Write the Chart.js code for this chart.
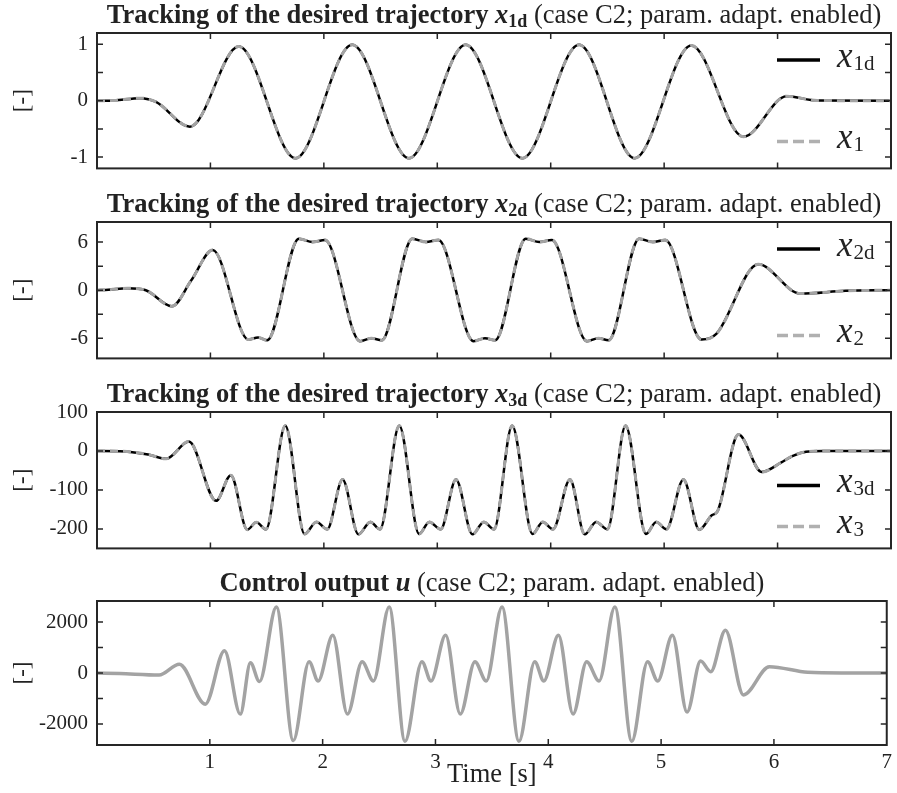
<!DOCTYPE html>
<html><head><meta charset="utf-8">
<script src="https://cdn.jsdelivr.net/npm/chart.js@4.4.1/dist/chart.umd.min.js"></script>
<style>
html,body{margin:0;padding:0;background:#fff;}
#wrap{position:relative;width:897px;height:793px;overflow:hidden;background:#fff;}
canvas{position:absolute;left:0;}
</style></head><body>
<div id="wrap">
<canvas id="c1" width="897" height="190" style="top:0px"></canvas>
<canvas id="c2" width="897" height="190" style="top:190px"></canvas>
<canvas id="c3" width="897" height="190" style="top:380px"></canvas>
<canvas id="c4" width="897" height="223" style="top:570px"></canvas>
</div>
<script>
// ---------- data ----------
const xTicks = [0, 1, 2, 3, 4, 5, 6, 7];
const xTickLabels = ['', '1', '2', '3', '4', '5', '6', '7'];

const t1  = [0, 0.15, 0.38, 0.52, 0.82, 1.25, 1.75, 2.25, 2.75, 3.25, 3.75, 4.25, 4.74, 5.24, 5.70, 6.08, 6.35, 7.0];
const x1d = [0, 0.005, 0.045, -0.02, -0.46, 0.96, -1.02, 0.99, -1.02, 0.99, -1.02, 0.99, -1.02, 0.98, -0.64, 0.08, 0.003, 0];
const x1  = [0, 0.005, 0.045, -0.02, -0.46, 0.96, -1.02, 0.99, -1.02, 0.99, -1.02, 0.99, -1.02, 0.98, -0.64, 0.08, 0.003, 0];

const t2  = [0, 0.1, 0.27, 0.43, 0.66, 0.83, 1.02, 1.335, 1.42, 1.50, 1.78, 1.90, 2.01, 2.32, 2.42, 2.51, 2.78, 2.90, 3.01, 3.32, 3.42, 3.51, 3.78, 3.90, 4.01, 4.32, 4.42, 4.51, 4.78, 4.90, 5.01, 5.33, 5.46, 5.83, 6.20, 6.60, 7.0];
const x2d = [0, 0.05, 0.24, 0.0, -2.0, 1.2, 5.0, -6.15, -5.88, -6.25, 6.42, 6.0, 6.25, -6.35, -5.98, -6.25, 6.42, 6.0, 6.25, -6.35, -5.98, -6.25, 6.42, 6.0, 6.25, -6.35, -5.98, -6.25, 6.42, 6.0, 6.25, -6.15, -5.45, 3.22, -0.42, -0.08, 0];
const x2  = [0, 0.05, 0.24, 0.0, -2.0, 1.2, 5.0, -6.15, -5.88, -6.25, 6.42, 6.0, 6.25, -6.35, -5.98, -6.25, 6.42, 6.0, 6.25, -6.35, -5.98, -6.25, 6.42, 6.0, 6.25, -6.35, -5.98, -6.25, 6.42, 6.0, 6.25, -6.15, -5.45, 3.22, -0.42, -0.08, 0];

const t3  = [0, 0.2, 0.45, 0.61, 0.81, 1.05, 1.18, 1.325, 1.405, 1.49, 1.66, 1.83, 1.935, 2.03, 2.165, 2.305, 2.41, 2.495, 2.665, 2.84, 2.93, 3.03, 3.165, 3.31, 3.41, 3.50, 3.66, 3.84, 3.93, 4.02, 4.17, 4.30, 4.40, 4.50, 4.66, 4.84, 4.93, 5.02, 5.17, 5.31, 5.42, 5.47, 5.655, 5.86, 6.03, 6.13, 6.25, 6.4, 7];
const x3d = [0, -0.5, -9, -20, 24, -128, -62, -202, -183, -201, 65, -213, -182, -201, -73, -214, -182, -201, 65, -213, -182, -201, -73, -214, -182, -201, 65, -213, -182, -201, -73, -214, -182, -201, 65, -213, -182, -201, -73, -202, -165, -155, 42, -54, -30, -13, -2, 0, 0];
const x3  = [0, -0.5, -9, -20, 24, -128, -62, -202, -183, -201, 65, -213, -182, -201, -73, -214, -182, -201, 65, -213, -182, -201, -73, -214, -182, -201, 65, -213, -182, -201, -73, -214, -182, -201, 65, -213, -182, -201, -73, -202, -165, -155, 42, -54, -30, -13, -2, 0, 0];

const tu = [0, 0.2, 0.55, 0.73, 0.96, 1.13, 1.27, 1.36, 1.44, 1.59, 1.74, 1.88, 1.96, 2.09, 2.22, 2.35, 2.45, 2.59, 2.73, 2.88, 2.96, 3.09, 3.22, 3.35, 3.45, 3.59, 3.74, 3.88, 3.96, 4.09, 4.22, 4.34, 4.45, 4.59, 4.74, 4.88, 4.97, 5.10, 5.23, 5.35, 5.44, 5.57, 5.73, 5.96, 6.3, 6.6, 7];
const u  = [0, -20, -80, 345, -1225, 873, -1616, 404, -339, 2593, -2658, 443, -313, 1485, -1616, 443, -313, 2593, -2684, 443, -313, 1485, -1616, 443, -313, 2593, -2684, 443, -313, 1485, -1616, 443, -313, 2593, -2684, 443, -313, 1485, -1537, 469, 52, 1680, -860, 247, 25, 0, 0];

const yTicks1 = [-1, -0.5, 0, 0.5, 1];          const yLabels1 = ['-1', '', '0', '', '1'];
const yTicks2 = [-6, -3, 0, 3, 6];              const yLabels2 = ['-6', '', '0', '', '6'];
const yTicks3 = [-200, -100, 0, 100];           const yLabels3 = ['-200', '-100', '0', '100'];
const yTicks4 = [-2000, -1000, 0, 1000, 2000];  const yLabels4 = ['-2000', '', '0', '', '2000'];

// ---------- rendering ----------
const FONT = '"Liberation Serif", "Times New Roman", Times, serif';
Chart.defaults.font.family = FONT;
Chart.defaults.color = '#222';
const INK = '#222';
const GRAY = '#a3a3a3';

function trackTitle(idx) {
  return [
    {text: 'Tracking of the desired trajectory ', font: 'bold 26.5px ' + FONT},
    {text: 'x', font: 'italic bold 26.5px ' + FONT},
    {text: idx + 'd', font: 'bold 18px ' + FONT, dy: 4},
    {text: ' (case C2; param. adapt. enabled)', font: '26.5px ' + FONT}
  ];
}
const uTitle = [
  {text: 'Control output ', font: 'bold 26.5px ' + FONT},
  {text: 'u', font: 'italic bold 26.5px ' + FONT},
  {text: ' (case C2; param. adapt. enabled)', font: '26.5px ' + FONT}
];

function drawRich(ctx, parts, cx, baseline) {
  let total = 0;
  parts.forEach(p => { ctx.font = p.font; p.w = ctx.measureText(p.text).width; total += p.w; });
  let x = cx - total / 2;
  ctx.textAlign = 'left';
  ctx.textBaseline = 'alphabetic';
  parts.forEach(p => { ctx.font = p.font; ctx.fillText(p.text, x, baseline + (p.dy || 0)); x += p.w; });
}

function decor(opt) {
  return {
    id: 'decor',
    afterDatasetsDraw(chart) {
      const {ctx, chartArea: a, scales: {x, y}} = chart;
      ctx.save();
      ctx.strokeStyle = '#262626';
      ctx.lineWidth = 1.5;
      ctx.setLineDash([]);
      ctx.beginPath();
      const tl = 6;
      xTicks.forEach(v => {
        const px = x.getPixelForValue(v);
        if (px <= a.left + 1 || px >= a.right - 1) return;
        ctx.moveTo(px, a.top); ctx.lineTo(px, a.top + tl);
        ctx.moveTo(px, a.bottom); ctx.lineTo(px, a.bottom - tl);
      });
      opt.yTicks.forEach(v => {
        const py = y.getPixelForValue(v);
        if (py <= a.top + 1 || py >= a.bottom - 1) return;
        ctx.moveTo(a.left, py); ctx.lineTo(a.left + tl, py);
        ctx.moveTo(a.right, py); ctx.lineTo(a.right - tl, py);
      });
      ctx.stroke();
      ctx.lineWidth = 2;
      ctx.strokeRect(a.left, a.top, a.right - a.left, a.bottom - a.top);
      ctx.fillStyle = INK;
      drawRich(ctx, opt.title, (a.left + a.right) / 2, a.top - 10.5);
      (opt.legend || []).forEach(L => {
        const ly = L.fromTop != null ? a.top + L.fromTop : a.bottom - L.fromBottom;
        ctx.beginPath();
        ctx.strokeStyle = L.color;
        ctx.lineWidth = 3.5;
        ctx.setLineDash(L.dash || []);
        ctx.moveTo(a.right - 114, ly); ctx.lineTo(a.right - 71, ly);
        ctx.stroke();
        ctx.setLineDash([]);
        ctx.fillStyle = INK;
        ctx.textAlign = 'left'; ctx.textBaseline = 'alphabetic';
        ctx.font = 'italic 35px ' + FONT;
        const tx = a.right - 54;
        ctx.fillText(L.main, tx, ly + 7);
        const w = ctx.measureText(L.main).width;
        ctx.font = '21px ' + FONT;
        ctx.fillText(L.sub, tx + w + 1, ly + 10);
      });
      ctx.restore();
    }
  };
}

function panel(opt) {
  const datasets = opt.series.map(s => ({
    label: s.label,
    data: s.t.map((t, i) => ({x: t, y: s.v[i]})),
    borderColor: s.color, borderWidth: s.width, borderDash: s.dash || [],
    pointRadius: 0, cubicInterpolationMode: 'monotone', fill: false
  }));
  return new Chart(document.getElementById(opt.id), {
    type: 'line',
    data: {datasets},
    options: {
      responsive: false, maintainAspectRatio: false, animation: false, devicePixelRatio: 1,
      layout: {padding: {left: 0, right: 6, top: opt.padTop, bottom: opt.padBottom}},
      plugins: {legend: {display: false}, tooltip: {enabled: false}, title: {display: false}},
      scales: {
        x: {
          type: 'linear', min: 0, max: 7,
          afterBuildTicks: s => { s.ticks = xTicks.map(v => ({value: v})); },
          ticks: {display: opt.showX, autoSkip: false, maxRotation: 0, minRotation: 0, padding: 5,
                  font: {size: 21}, color: INK, callback: (v, i) => xTickLabels[i]},
          grid: {display: false, drawTicks: false}, border: {display: false},
          title: {display: opt.showX, text: 'Time [s]', font: {size: 26.5}, color: INK, padding: {top: 0, bottom: 2}},
          afterFit: s => { s.height = opt.showX ? 48 : 0; }
        },
        y: {
          type: 'linear', min: opt.yMin, max: opt.yMax,
          afterBuildTicks: s => { s.ticks = opt.yTicks.map(v => ({value: v})); },
          ticks: {autoSkip: false, padding: 9, font: {size: 21}, color: INK, callback: (v, i) => opt.yLabels[i]},
          grid: {display: false, drawTicks: false}, border: {display: false},
          title: {display: true, text: '[-]', font: {size: 23}, color: INK, padding: {top: 9, bottom: 0}},
          afterFit: s => { s.width = 97; }
        }
      }
    },
    plugins: [decor(opt)]
  });
}

function trackSeries(t, actual, desired, idx) {
  return [
    {label: 'x' + idx, t: t, v: actual, color: GRAY, width: 3, dash: [8, 5]},
    {label: 'x' + idx + 'd', t: t, v: desired, color: '#000', width: 2.5}
  ];
}
function legendFor(idx, pos1, pos2) {
  return [
    Object.assign({main: 'x', sub: idx + 'd', color: '#000'}, pos1),
    Object.assign({main: 'x', sub: String(idx), color: '#b0b0b0', dash: [11, 5]}, pos2)
  ];
}

panel({id: 'c1', padTop: 33, padBottom: 13, yMin: -1.2, yMax: 1.2, yTicks: yTicks1, yLabels: yLabels1,
  showX: false, title: trackTitle(1), series: trackSeries(t1, x1, x1d, 1),
  legend: legendFor(1, {fromTop: 27}, {fromBottom: 27})});
panel({id: 'c2', padTop: 32, padBottom: 13, yMin: -8.5, yMax: 8.5, yTicks: yTicks2, yLabels: yLabels2,
  showX: false, title: trackTitle(2), series: trackSeries(t2, x2, x2d, 2),
  legend: legendFor(2, {fromTop: 27}, {fromBottom: 23})});
panel({id: 'c3', padTop: 32, padBottom: 14, yMin: -250, yMax: 100, yTicks: yTicks3, yLabels: yLabels3,
  showX: false, title: trackTitle(3), series: trackSeries(t3, x3, x3d, 3),
  legend: legendFor(3, {fromBottom: 63}, {fromBottom: 22})});
panel({id: 'c4', padTop: 31, padBottom: 0, yMin: -2830, yMax: 2830, yTicks: yTicks4, yLabels: yLabels4,
  showX: true, title: uTitle, series: [{label: 'u', t: tu, v: u, color: GRAY, width: 3.5}]});
</script>
</body></html>
